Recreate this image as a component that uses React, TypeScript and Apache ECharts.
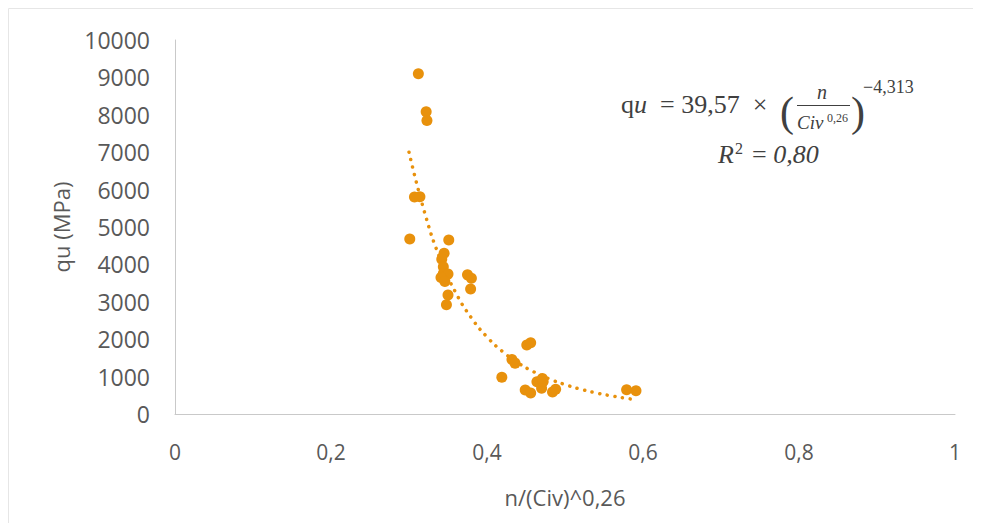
import React, { useEffect, useRef } from "react";
import * as echarts from "echarts";

// Measured data points: n/(Civ)^0,26 (x) and qu in MPa (y)
const xValues = [
  0.312, 0.322, 0.323, 0.301, 0.307, 0.314, 0.351, 0.345, 0.342, 0.344,
  0.344, 0.350, 0.341, 0.346, 0.375, 0.380, 0.379, 0.350, 0.348, 0.451,
  0.456, 0.432, 0.436, 0.419, 0.449, 0.456, 0.470, 0.464, 0.472, 0.471,
  0.484, 0.488, 0.579, 0.591,
];
const quValues = [
  9100, 8080, 7850, 4680, 5800, 5810, 4650, 4300, 4140, 3940,
  3760, 3740, 3650, 3540, 3720, 3630, 3340, 3180, 2920, 1845,
  1906, 1460, 1360, 980, 640, 560, 690, 860, 870, 950,
  590, 660, 650, 620,
];

// Power trendline
const trendX = [0.30, 0.32, 0.34, 0.36, 0.38, 0.40, 0.42, 0.44, 0.46, 0.48, 0.50, 0.52, 0.54, 0.56, 0.58, 0.59];
const trendY = [7000, 5390, 4150, 3240, 2570, 2060, 1670, 1365, 1127, 938, 787, 664, 564, 482, 415, 385];

const xTicks = ["0", "0,2", "0,4", "0,6", "0,8", "1"];
const yTicks = ["0", "1000", "2000", "3000", "4000", "5000", "6000", "7000", "8000", "9000", "10000"];

const ORANGE = "#E8910C";
const LABEL = "#595959";
const EQ = "#404040";
const SERIF = "'Liberation Serif', 'DejaVu Serif', serif";
const SANS = "'Open Sans', 'Noto Sans', sans-serif";

export default function App() {
  const ref = useRef<HTMLDivElement>(null);

  useEffect(() => {
    if (!ref.current) return;
    const chart = echarts.init(ref.current, undefined, { renderer: "svg" });

    const points = xValues.map((x, i) => [x, quValues[i]]);
    const trend = trendX.map((x, i) => [x, trendY[i]]);

    const t = (text: string, x: number, y: number, size: number, italic = false, extra: any = {}) => ({
      type: "text",
      x,
      y,
      silent: true,
      style: {
        text,
        fontFamily: SERIF,
        fontSize: size,
        fontStyle: italic ? "italic" : "normal",
        fill: EQ,
        textAlign: "left",
        textVerticalAlign: "bottom",
        ...extra,
      },
    });

    chart.setOption({
      animation: false,
      backgroundColor: "#ffffff",
      grid: { left: 167, top: 32, right: 26, bottom: 109, containLabel: false },
      xAxis: {
        type: "value",
        min: 0,
        max: 1,
        interval: 0.2,
        name: "n/(Civ)^0,26",
        nameLocation: "middle",
        nameGap: 72,
        nameTextStyle: { color: LABEL, fontSize: 22, fontFamily: SANS },
        axisLine: { show: true, lineStyle: { color: "#C9C9C9", width: 1 } },
        axisTick: { show: false },
        splitLine: { show: false },
        axisLabel: {
          color: LABEL,
          fontSize: 21,
          fontFamily: SANS,
          margin: 27,
          formatter: (v: number) => xTicks[Math.round(v * 5)] ?? String(v),
        },
      },
      yAxis: {
        type: "value",
        min: 0,
        max: 10000,
        interval: 1000,
        name: "qu (MPa)",
        nameLocation: "middle",
        nameRotate: 90,
        nameGap: 103,
        nameTextStyle: { color: LABEL, fontSize: 22, fontFamily: SANS },
        axisLine: { show: true, lineStyle: { color: "#C9C9C9", width: 1 } },
        axisTick: { show: false },
        splitLine: { show: false },
        axisLabel: {
          color: LABEL,
          fontSize: 23,
          fontFamily: SANS,
          margin: 25,
          formatter: (v: number) => yTicks[Math.round(v / 1000)] ?? String(v),
        },
      },
      series: [
        {
          type: "line",
          data: trend,
          smooth: true,
          showSymbol: false,
          symbol: "none",
          z: 1,
          lineStyle: { color: ORANGE, width: 3.5, type: [0.1, 7.6], cap: "round" },
        },
        {
          type: "scatter",
          data: points,
          symbol: "circle",
          symbolSize: 11,
          z: 2,
          itemStyle: { color: ORANGE, opacity: 1 },
        },
      ],
      graphic: [
        {
          type: "rect",
          silent: true,
          shape: { x: 0.5, y: 0.5, width: 1200, height: 1200 },
          style: { fill: "none", stroke: "#E6E6E6", lineWidth: 1 },
        },
        {
          type: "text",
          x: 613,
          y: 109,
          silent: true,
          style: {
            text: "{r|q}{i|u}{r|  = 39,57  ×}",
            textVerticalAlign: "bottom",
            rich: {
              r: { fontFamily: SERIF, fontSize: 26, fill: EQ, fontStyle: "normal" },
              i: { fontFamily: SERIF, fontSize: 26, fill: EQ, fontStyle: "italic" },
            },
          },
        },
        t("(", 772, 125, 42, false),
        t("n", 809, 94, 20, true),
        {
          type: "line",
          silent: true,
          shape: { x1: 789, y1: 97.5, x2: 842, y2: 97.5 },
          style: { stroke: EQ, lineWidth: 1.2 },
        },
        t("Civ", 789, 124, 19, true),
        t("0,26", 819, 116, 12, false),
        t(")", 843, 125, 42, false),
        t("−4,313", 855, 88, 18, false),
        t("R", 710, 159, 26, true),
        t("2", 727, 148, 16, false),
        {
          type: "text",
          x: 744,
          y: 159,
          silent: true,
          style: {
            text: "{r|= }{i|0,80}",
            textVerticalAlign: "bottom",
            rich: {
              r: { fontFamily: SERIF, fontSize: 26, fill: EQ, fontStyle: "normal" },
              i: { fontFamily: SERIF, fontSize: 26, fill: EQ, fontStyle: "italic" },
            },
          },
        },
      ],
    });

    return () => chart.dispose();
  }, []);

  return <div ref={ref} style={{ width: 973, height: 515 }} />;
}
